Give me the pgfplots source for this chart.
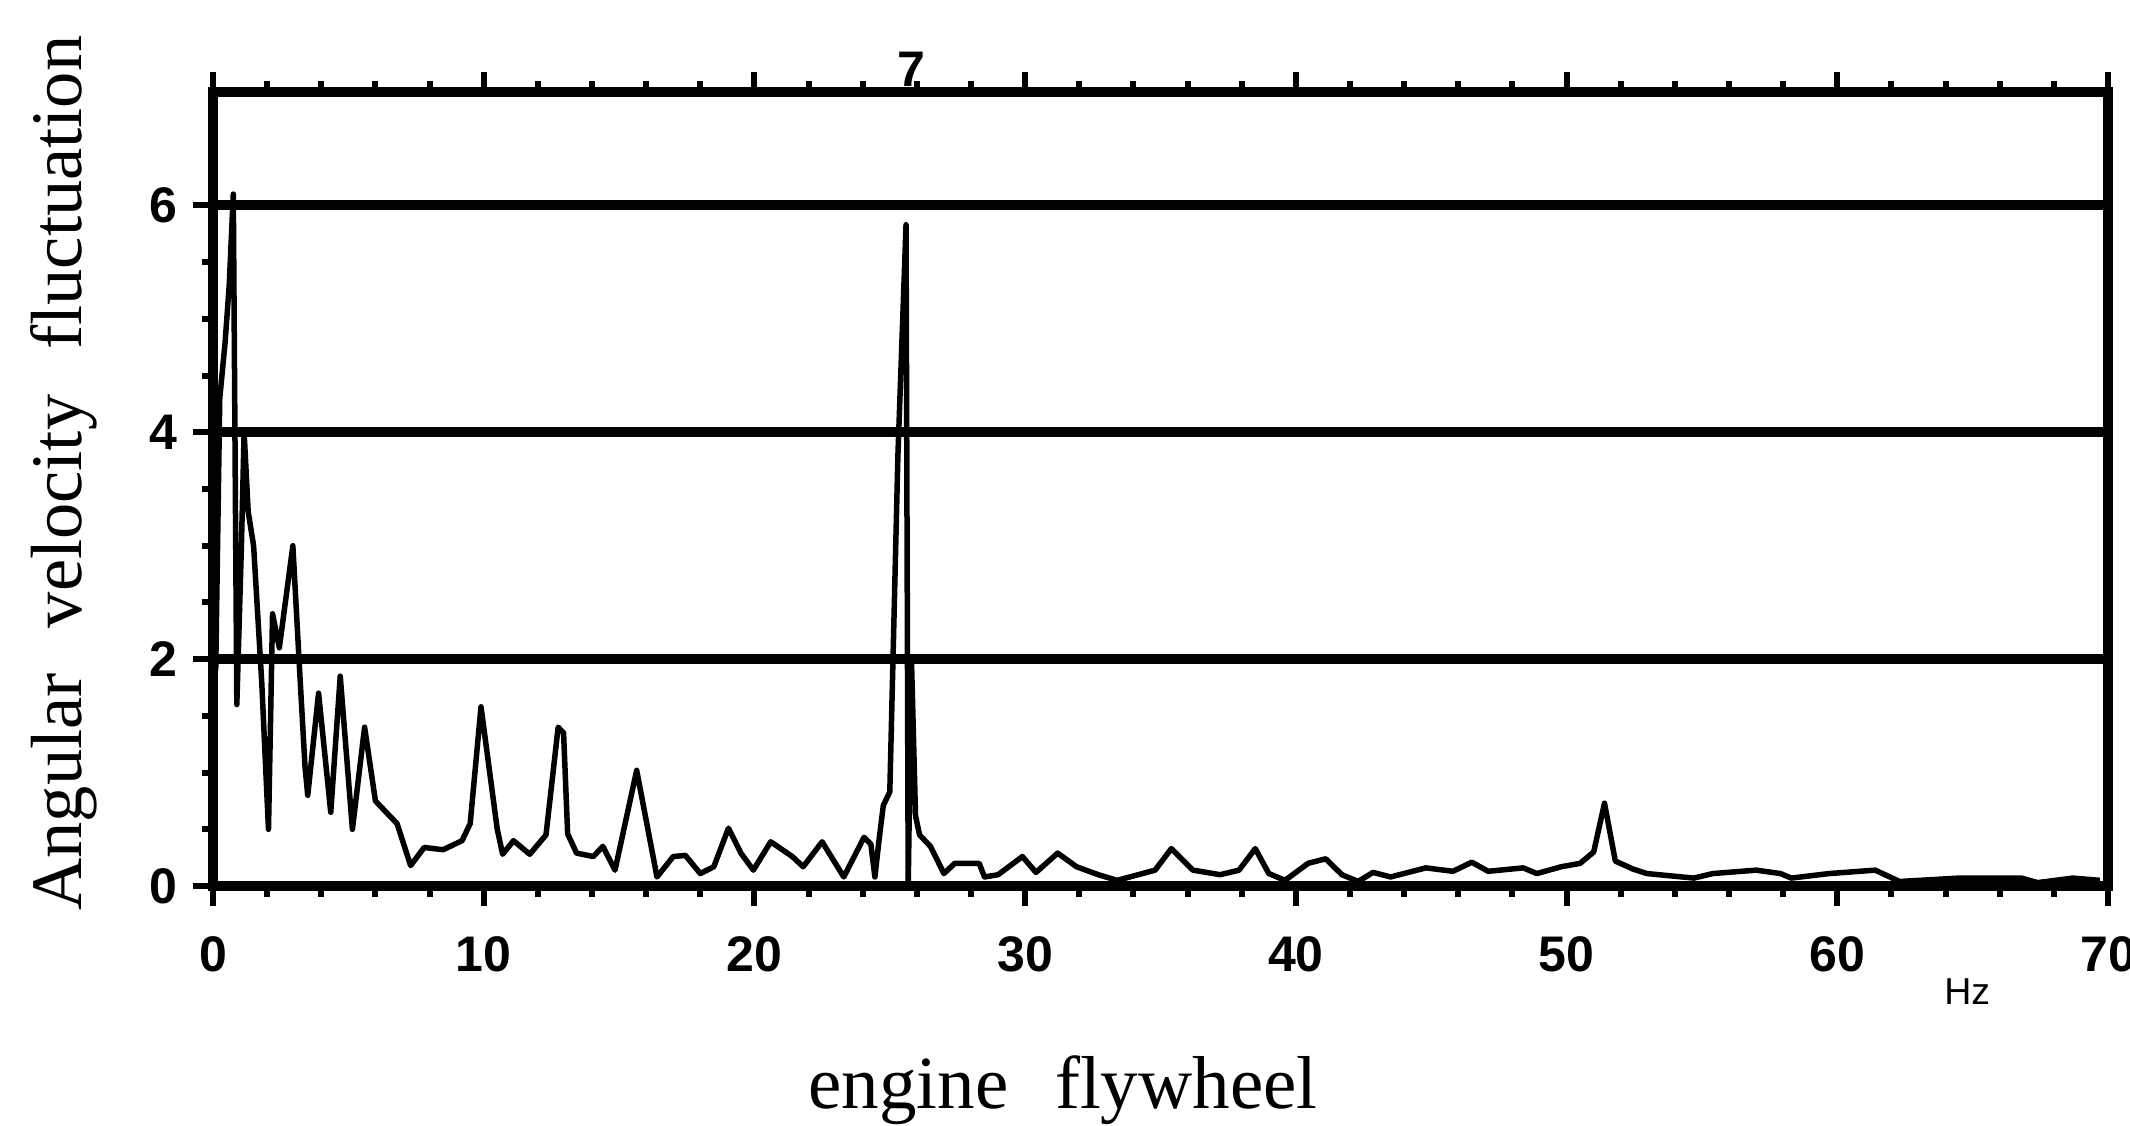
\documentclass[border=0pt]{standalone}
\usepackage{pgfplots}
\pgfplotsset{compat=1.18}
\usepackage{fontspec}
\setmainfont{Liberation Serif}
\newfontfamily\ticksans{Liberation Sans}

\begin{document}
\begin{tikzpicture}
\begin{axis}[
    scale only axis,
    width=379pt, height=158.8pt,
    xmin=0, xmax=70, ymin=0, ymax=7,
    xtick={0,10,...,70}, ytick={0,2,4,6},
    minor x tick num=4, minor y tick num=3,
    % negative lengths with inside alignment: ticks point out, labels stay put
    tick align=inside,
    xtick pos=both, ytick pos=left,
    major tick length=-4pt, minor tick length=-2.2pt,
    every tick/.style={black, line width=1.2pt},
    axis line style={line width=2pt},
    ymajorgrids, grid style={black, line width=2pt},
    tick label style={font=\ticksans\bfseries\fontsize{10}{12}\selectfont},
    /pgf/number format/assume math mode=true,
    xticklabel style={yshift=-6.5pt},
    yticklabel style={xshift=-3.6pt},
    clip=false,
]
% spectrum
\addplot[black, line width=1.1pt, line join=round, mark=none] coordinates {
(0.1,1.9) (0.25,4.3) (0.45,4.8) (0.6,5.3) (0.75,6.1) (0.88,1.6) (1.05,3.0)
(1.15,4.0) (1.3,3.3) (1.5,3.0) (1.8,1.8) (2.05,0.5) (2.2,2.4) (2.45,2.1)
(2.95,3.0) (3.2,1.9) (3.4,1.05) (3.5,0.8) (3.9,1.7) (4.35,0.65) (4.7,1.85)
(5.15,0.5) (5.6,1.4) (6.0,0.75) (6.8,0.55) (7.3,0.18) (7.8,0.34) (8.5,0.32)
(9.2,0.4) (9.5,0.55) (9.9,1.58) (10.5,0.5) (10.7,0.28) (11.1,0.4) (11.7,0.28)
(12.3,0.45) (12.75,1.4) (12.95,1.35) (13.1,0.46) (13.43,0.29) (14.05,0.26)
(14.4,0.35) (14.85,0.14) (15.65,1.02) (16.4,0.08) (17.0,0.26) (17.45,0.27)
(18.0,0.11) (18.5,0.17) (19.04,0.51) (19.5,0.29) (19.96,0.14) (20.6,0.39)
(21.4,0.26) (21.8,0.17) (22.5,0.39) (23.3,0.08) (24.05,0.43) (24.3,0.37)
(24.45,0.08) (24.6,0.4) (24.76,0.71) (25.0,0.83) (25.3,3.8) (25.6,5.83)
(25.68,0.0) (25.8,2.0) (25.95,0.62) (26.1,0.45) (26.5,0.35) (27.0,0.11)
(27.4,0.2) (28.3,0.2) (28.5,0.08) (29.0,0.1) (29.9,0.26) (30.4,0.12)
(31.2,0.29) (31.9,0.17) (32.7,0.10) (33.4,0.05) (34.8,0.14) (35.4,0.33)
(36.2,0.14) (37.2,0.10) (37.9,0.14) (38.5,0.33) (39.0,0.11) (39.6,0.05)
(40.45,0.2) (41.1,0.24) (41.7,0.10) (42.3,0.04) (42.85,0.12) (43.5,0.08)
(44.8,0.16) (45.8,0.13) (46.5,0.21) (47.1,0.13) (48.4,0.16) (48.9,0.11)
(49.8,0.17) (50.5,0.2) (51.0,0.3) (51.4,0.73) (51.8,0.22) (52.45,0.15)
(52.96,0.11) (54.7,0.07) (55.4,0.11) (57.0,0.14) (57.9,0.11) (58.3,0.07)
(59.7,0.11) (61.4,0.14) (62.3,0.04) (64.5,0.07) (66.8,0.07) (67.4,0.03)
(68.7,0.07) (69.7,0.05)
};
\node[font=\fontsize{14.5}{17}\selectfont, rotate=90, anchor=base]
    at ([xshift=-26.2pt]axis cs:0,3.64) {Angular\hspace{0.62em}velocity\hspace{0.62em}fluctuation};
\node[font=\fontsize{15}{18}\selectfont, anchor=base]
    at ([yshift=-44.4pt]axis cs:31.4,0) {engine\hspace{0.62em}flywheel};
\node[font=\ticksans\fontsize{7.5}{9}\selectfont, anchor=north]
    at ([yshift=-15pt]axis cs:64.8,0) {Hz};
\node[font=\ticksans\bfseries\fontsize{10}{12}\selectfont, anchor=south, inner sep=0pt]
    at ([yshift=1pt]axis cs:25.8,7) {7};
\coordinate (bl) at (rel axis cs:-0.1124,-0.301);
\coordinate (tr) at (rel axis cs:1.0116,1.1159);
\end{axis}
\pgfresetboundingbox
\path (bl) rectangle (tr);
\end{tikzpicture}
\end{document}
